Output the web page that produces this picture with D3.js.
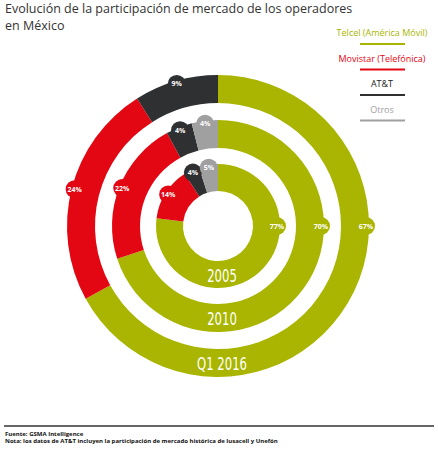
<!DOCTYPE html>
<html><head><meta charset="utf-8">
<script src="https://cdn.jsdelivr.net/npm/d3@7"></script>
<style>body{margin:0;background:#fff}svg{display:block}</style>
</head><body>
<script>
const operators = ["Telcel (América Móvil)", "Movistar (Telefónica)", "AT&T", "Otros"];
const colors = ["#a9b500", "#e30613", "#2f3032", "#a0a0a0"];
const years = ["2005", "2010", "Q1 2016"];
const share2005 = [77, 14, 4, 5];
const share2010 = [70, 22, 4, 4];
const share2016 = [67, 24, 9, 0];
const rings = [share2005, share2010, share2016];
const radii = [[35, 62], [78, 106], [123, 151]];

const W = 438, H = 450, cx = 218, cy = 226;
const svg = d3.select("body").append("svg").attr("width", W).attr("height", H);

svg.append("text").attr("x", 5).attr("y", 13).attr("font-family", "Open Sans, sans-serif")
  .attr("font-size", 12.5).attr("fill", "#333").text("Evolución de la participación de mercado de los operadores");
svg.append("text").attr("x", 5).attr("y", 30).attr("font-family", "Open Sans, sans-serif")
  .attr("font-size", 12.5).attr("fill", "#333").text("en México");

const lg = svg.append("g");
operators.forEach((op, i) => {
  const y = 36 + i * 25.5;
  lg.append("text").attr("x", 382).attr("y", y).attr("text-anchor", "middle")
    .attr("font-family", "Open Sans, sans-serif").attr("font-size", 9).attr("fill", i === 2 ? "#222" : colors[i]).text(op);
  lg.append("line").attr("x1", 360).attr("x2", 405).attr("y1", y + 8).attr("y2", y + 8)
    .attr("stroke", colors[i]).attr("stroke-width", 2.2);
});

const g = svg.append("g").attr("transform", `translate(${cx},${cy})`);
const pie = d3.pie().sort(null).value(d => d);
const arc = d3.arc();

rings.forEach((vals, ri) => {
  const [r0, r1] = radii[ri];
  const arcs = pie(vals);
  arcs.forEach((a, i) => {
    if (a.data === 0) return;
    g.append("path").attr("d", arc({innerRadius: r0, outerRadius: r1, startAngle: a.startAngle, endAngle: a.endAngle}))
      .attr("fill", colors[i]);
  });
  arcs.forEach((a, i) => {
    if (a.data === 0) return;
    const ang = i === 0 ? Math.PI / 2 : (a.startAngle + a.endAngle) / 2;
    const rr = r1 - 3;
    const x = Math.sin(ang) * rr, y = -Math.cos(ang) * rr;
    g.append("circle").attr("cx", x).attr("cy", y).attr("r", 9).attr("fill", colors[i]);
    g.append("text").attr("x", x).attr("y", y + 2.5).attr("text-anchor", "middle")
      .attr("font-family", "Open Sans, sans-serif").attr("font-size", 7).attr("font-weight", "bold")
      .attr("fill", "#fff").text(a.data + "%");
  });
  g.append("text").attr("transform", `translate(4,${(r0 + r1) / 2 + 7}) scale(0.72,1)`).attr("text-anchor", "middle")
    .attr("font-family", "Liberation Sans Narrow, DejaVu Sans Condensed, sans-serif")
    .attr("font-size", 18).attr("fill", "#fff").text(years[ri]);
});

svg.append("line").attr("x1", 4).attr("x2", 434).attr("y1", 426).attr("y2", 426).attr("stroke", "#333").attr("stroke-width", 1.5);
svg.append("text").attr("x", 5).attr("y", 436).attr("font-family", "Open Sans, sans-serif").attr("font-size", 6)
  .attr("font-weight", "bold").attr("fill", "#111").text("Fuente: GSMA Intelligence");
svg.append("text").attr("x", 5).attr("y", 443).attr("font-family", "Open Sans, sans-serif").attr("font-size", 6)
  .attr("font-weight", "bold").attr("fill", "#111").text("Nota: los datos de AT&T incluyen la participación de mercado histórica de Iusacell y Unefón");
</script>
</body></html>
